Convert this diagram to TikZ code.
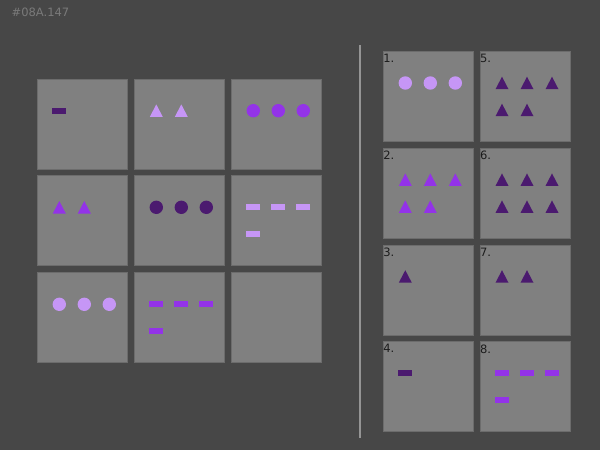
\documentclass[tikz,border=0pt]{standalone}
\usepackage{fontspec}
\setmainfont{DejaVu Sans}
\definecolor{bg}{HTML}{474747}
\definecolor{cellfill}{HTML}{808080}
\definecolor{celledge}{HTML}{6C6C6C}
\definecolor{lightp}{HTML}{C696F6}
\definecolor{midp}{HTML}{9333E8}
\definecolor{darkp}{HTML}{4B1A6F}
\definecolor{sep}{HTML}{959595}
\definecolor{idtext}{HTML}{7A7A7A}
\definecolor{lbltext}{HTML}{1C1C1C}
\tikzset{
  cell/.style={draw=celledge, fill=cellfill, line width=1pt, minimum size=90pt, inner sep=0pt},
  lbl/.style={text=lbltext, font=\fontsize{11.5}{13}\selectfont, inner sep=0pt, anchor=north west},
  circ/.pic={\fill (0,0) circle (6.7pt);},
  tri/.pic={\fill (-6.5,6.2) -- (6.5,6.2) -- (0,-6.3) -- cycle;},
  dsh/.pic={\fill (-7,-3) rectangle (7,3);}
}
\newcommand\itemgrid[5]{%
  \foreach \k in {1,...,#5}{%
    \pgfmathsetmacro\cx{#1+22+25*mod(\k-1,3)}%
    \pgfmathsetmacro\cy{#2+32+27*floor((\k-1)/3)}%
    \pic[fill=#4] at (\cx,\cy) {#3};
  }}
\begin{document}
\begin{tikzpicture}[x=1pt,y=-1pt]
  \fill[bg] (0,0) rectangle (600,450);
  \useasboundingbox (0,0) rectangle (600,450);
  \node[anchor=north west, inner sep=0pt, text=idtext, font=\fontsize{11.5}{13}\selectfont] (id) at (11.5,7.5) {\#08A.147};
  % left matrix
  \foreach \c/\x in {1/37.3,2/134.3,3/231.3}{
    \foreach \r/\y in {1/78.7,2/175.3,3/272.3}{
      \node[cell] (L\r\c) at (\x+45.5,\y+45.5) {};
    }
  }
  \itemgrid{37.3}{78.7}{dsh}{darkp}{1}
  \itemgrid{134.3}{78.7}{tri}{lightp}{2}
  \itemgrid{231.3}{78.7}{circ}{midp}{3}
  \itemgrid{37.3}{175.3}{tri}{midp}{2}
  \itemgrid{134.3}{175.3}{circ}{darkp}{3}
  \itemgrid{231.3}{175.3}{dsh}{lightp}{4}
  \itemgrid{37.3}{272.3}{circ}{lightp}{3}
  \itemgrid{134.3}{272.3}{dsh}{midp}{4}
  % separator
  \coordinate (s1) at (360,45);
  \coordinate (s2) at (360,437.5);
  \draw[sep, line width=1.6pt] (s1) -- (s2);
  % answers
  \foreach \n/\x/\y in {1/383.3/51,2/383.3/147.7,3/383.3/244.5,4/383.3/341.3,5/480/51,6/480/147.7,7/480/244.5,8/480/341.3}{
    \node[cell] (A\n) at (\x+45.5,\y+45.5) {};
    \node[lbl] (A\n lbl) at (\x-0.2,\y+3) {\n.};
  }
  \itemgrid{383.3}{51}{circ}{lightp}{3}
  \itemgrid{383.3}{147.7}{tri}{midp}{5}
  \itemgrid{383.3}{244.5}{tri}{darkp}{1}
  \itemgrid{383.3}{341.3}{dsh}{darkp}{1}
  \itemgrid{480}{51}{tri}{darkp}{5}
  \itemgrid{480}{147.7}{tri}{darkp}{6}
  \itemgrid{480}{244.5}{tri}{darkp}{2}
  \itemgrid{480}{341.3}{dsh}{midp}{4}
\end{tikzpicture}
\end{document}
